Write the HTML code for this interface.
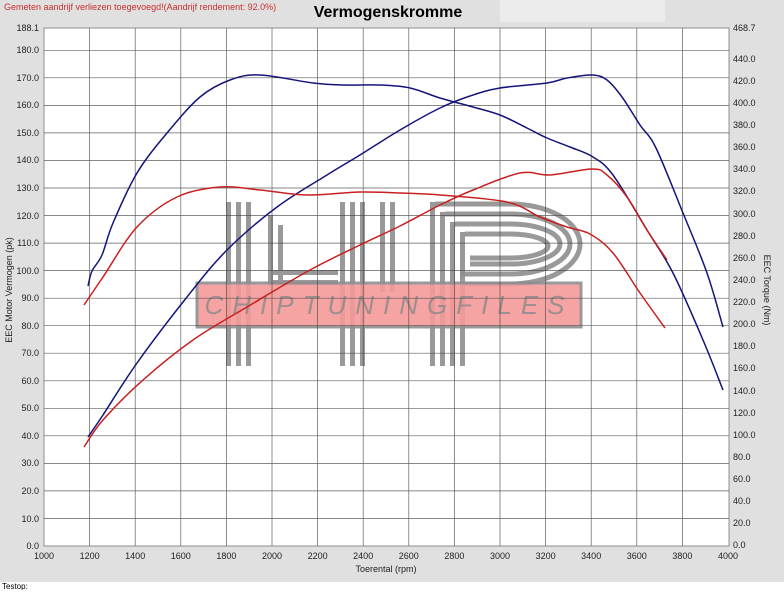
<!DOCTYPE html>
<html><head><meta charset="utf-8"><style>
body{margin:0;width:784px;height:590px;overflow:hidden;background:#fff;font-family:"Liberation Sans",sans-serif}
</style></head><body>
<svg width="784" height="590" xmlns="http://www.w3.org/2000/svg" font-family="Liberation Sans, sans-serif">
<rect x="0" y="0" width="784" height="582" fill="#e0e0e0"/>
<rect x="500" y="0" width="165" height="22" fill="#ececec"/>
<text x="4" y="10" font-size="9" fill="#c83030">Gemeten aandrijf verliezen toegevoegd!(Aandrijf rendement: 92.0%)</text>
<text x="388" y="17" font-size="16" font-weight="bold" text-anchor="middle" fill="#000">Vermogenskromme</text>
<text x="2" y="589" font-size="8" fill="#000">Testop:</text>
<rect x="44" y="28" width="685" height="518" fill="#fff"/>
<g fill="#8f8f8f" opacity="0.9">
<rect x="226" y="202" width="5" height="164"/><rect x="236" y="202" width="5" height="164"/><rect x="246" y="202" width="5" height="164"/>
<rect x="268" y="215" width="5" height="70"/><rect x="278" y="225" width="5" height="60"/>
<rect x="268" y="270" width="70" height="5"/><rect x="268" y="280" width="70" height="5"/>
<rect x="340" y="202" width="5" height="164"/><rect x="350" y="202" width="5" height="164"/><rect x="360" y="202" width="5" height="164"/>
<rect x="380" y="202" width="5" height="90"/><rect x="390" y="202" width="5" height="90"/>
<rect x="430" y="202" width="5" height="164"/><rect x="440" y="212" width="5" height="154"/><rect x="450" y="222" width="5" height="144"/><rect x="460" y="232" width="5" height="134"/>
</g>
<g fill="none" stroke="#8f8f8f" stroke-width="5" opacity="0.9">
<path d="M435 204H510A70 40 0 0 1 510 284H460"/>
<path d="M445 214H510A60 30 0 0 1 510 274H460"/>
<path d="M455 224H510A50 20 0 0 1 510 264H470"/>
<path d="M465 234H510A38 12 0 0 1 510 258H470"/>
</g>
<rect x="197" y="283" width="384" height="44" fill="#f59a9a" stroke="#8f8f8f" stroke-width="3" opacity="0.9"/>
<text x="389" y="314" font-size="26" font-style="italic" text-anchor="middle" fill="#8a8a8a" opacity="0.8" letter-spacing="9">CHIPTUNINGFILES</text>
<g stroke="#444" stroke-width="0.7" fill="none" opacity="0.85">
<path d="M89.6 28V546M135.2 28V546M180.8 28V546M226.4 28V546M272 28V546M317.6 28V546M363.2 28V546M408.8 28V546M454.4 28V546M500 28V546M545.6 28V546M591.2 28V546M636.8 28V546M682.4 28V546"/>
<path d="M44 518.5H729M44 490.9H729M44 463.4H729M44 435.8H729M44 408.3H729M44 380.8H729M44 353.2H729M44 325.7H729M44 298.2H729M44 270.6H729M44 243.1H729M44 215.5H729M44 188H729M44 160.5H729M44 132.9H729M44 105.4H729M44 77.8H729M44 50.3H729"/>
</g>
<rect x="44" y="28" width="685" height="518" fill="none" stroke="#777" stroke-width="0.8"/>
<g fill="none" stroke-width="1.5" stroke-linejoin="round">
<path id="bt" stroke="#14147a"/>
<path id="bp" stroke="#14147a"/>
<path id="rt" stroke="#c82020"/>
<path id="rp" stroke="#c82020"/>
</g>
<g font-size="9" fill="#222" text-anchor="end">
<text x="39" y="31">188.1</text><text x="39" y="53">180.0</text><text x="39" y="81">170.0</text><text x="39" y="108">160.0</text><text x="39" y="136">150.0</text><text x="39" y="163">140.0</text><text x="39" y="191">130.0</text><text x="39" y="219">120.0</text><text x="39" y="246">110.0</text><text x="39" y="274">100.0</text><text x="39" y="301">90.0</text><text x="39" y="329">80.0</text><text x="39" y="356">70.0</text><text x="39" y="384">60.0</text><text x="39" y="411">50.0</text><text x="39" y="439">40.0</text><text x="39" y="466">30.0</text><text x="39" y="494">20.0</text><text x="39" y="522">10.0</text><text x="39" y="549">0.0</text>
</g>
<g font-size="9" fill="#222">
<text x="733" y="31">468.7</text><text x="733" y="62">440.0</text><text x="733" y="84">420.0</text><text x="733" y="106">400.0</text><text x="733" y="128">380.0</text><text x="733" y="150">360.0</text><text x="733" y="172">340.0</text><text x="733" y="194">320.0</text><text x="733" y="217">300.0</text><text x="733" y="239">280.0</text><text x="733" y="261">260.0</text><text x="733" y="283">240.0</text><text x="733" y="305">220.0</text><text x="733" y="327">200.0</text><text x="733" y="349">180.0</text><text x="733" y="371">160.0</text><text x="733" y="394">140.0</text><text x="733" y="416">120.0</text><text x="733" y="438">100.0</text><text x="733" y="460">80.0</text><text x="733" y="482">60.0</text><text x="733" y="504">40.0</text><text x="733" y="526">20.0</text><text x="733" y="548">0.0</text>
</g>
<g font-size="9" fill="#222" text-anchor="middle">
<text x="44" y="559">1000</text><text x="89.6" y="559">1200</text><text x="135.2" y="559">1400</text><text x="180.8" y="559">1600</text><text x="226.4" y="559">1800</text><text x="272" y="559">2000</text><text x="317.6" y="559">2200</text><text x="363.2" y="559">2400</text><text x="408.8" y="559">2600</text><text x="454.4" y="559">2800</text><text x="500" y="559">3000</text><text x="545.6" y="559">3200</text><text x="591.2" y="559">3400</text><text x="636.8" y="559">3600</text><text x="682.4" y="559">3800</text><text x="728" y="559">4000</text>
<text x="386" y="572">Toerental (rpm)</text>
<text transform="translate(12 290) rotate(-90)">EEC Motor Vermogen (pk)</text>
<text transform="translate(764 290) rotate(90)">EEC Torque (Nm)</text>
</g>
</svg>
<script>
function cr(p){var d="M"+p[0][0]+" "+p[0][1];for(var i=0;i<p.length-1;i++){var a=p[i-1]||p[i],b=p[i],c=p[i+1],e=p[i+2]||c;d+="C"+(b[0]+(c[0]-a[0])/6)+" "+(b[1]+(c[1]-a[1])/6)+" "+(c[0]-(e[0]-b[0])/6)+" "+(c[1]-(e[1]-b[1])/6)+" "+c[0]+" "+c[1];}return d;}
var D={
bt:[[88,286],[92,271],[102,255],[113,223],[137,173],[167,133],[200,97],[230,80],[260,75],[313,83],[343,85],[380,85],[410,88],[440,98],[473,107],[500,115],[527,128],[547,138],[570,147],[593,157],[613,175],[647,230],[673,273],[703,340],[723,390]],
bp:[[88,437],[103,415],[137,363],[187,297],[227,250],[277,207],[327,175],[360,155],[400,130],[440,108],[470,96],[500,88],[547,83],[567,78],[592,75],[607,80],[622,97],[640,125],[656,148],[683,213],[707,273],[723,327]],
rt:[[84,305],[103,277],[137,227],[177,197],[220,187],[260,190],[307,195],[360,192],[400,193],[440,195],[507,202],[540,217],[567,227],[590,234],[613,253],[640,293],[665,328]],
rp:[[84,447],[103,420],[143,380],[193,340],[247,307],[310,270],[360,245],[400,226],[440,205],[473,190],[520,173],[550,175],[592,169],[607,175],[627,197],[647,230],[667,260]]};
for(var k in D)document.getElementById(k).setAttribute("d",cr(D[k]));
</script>
</body></html>
